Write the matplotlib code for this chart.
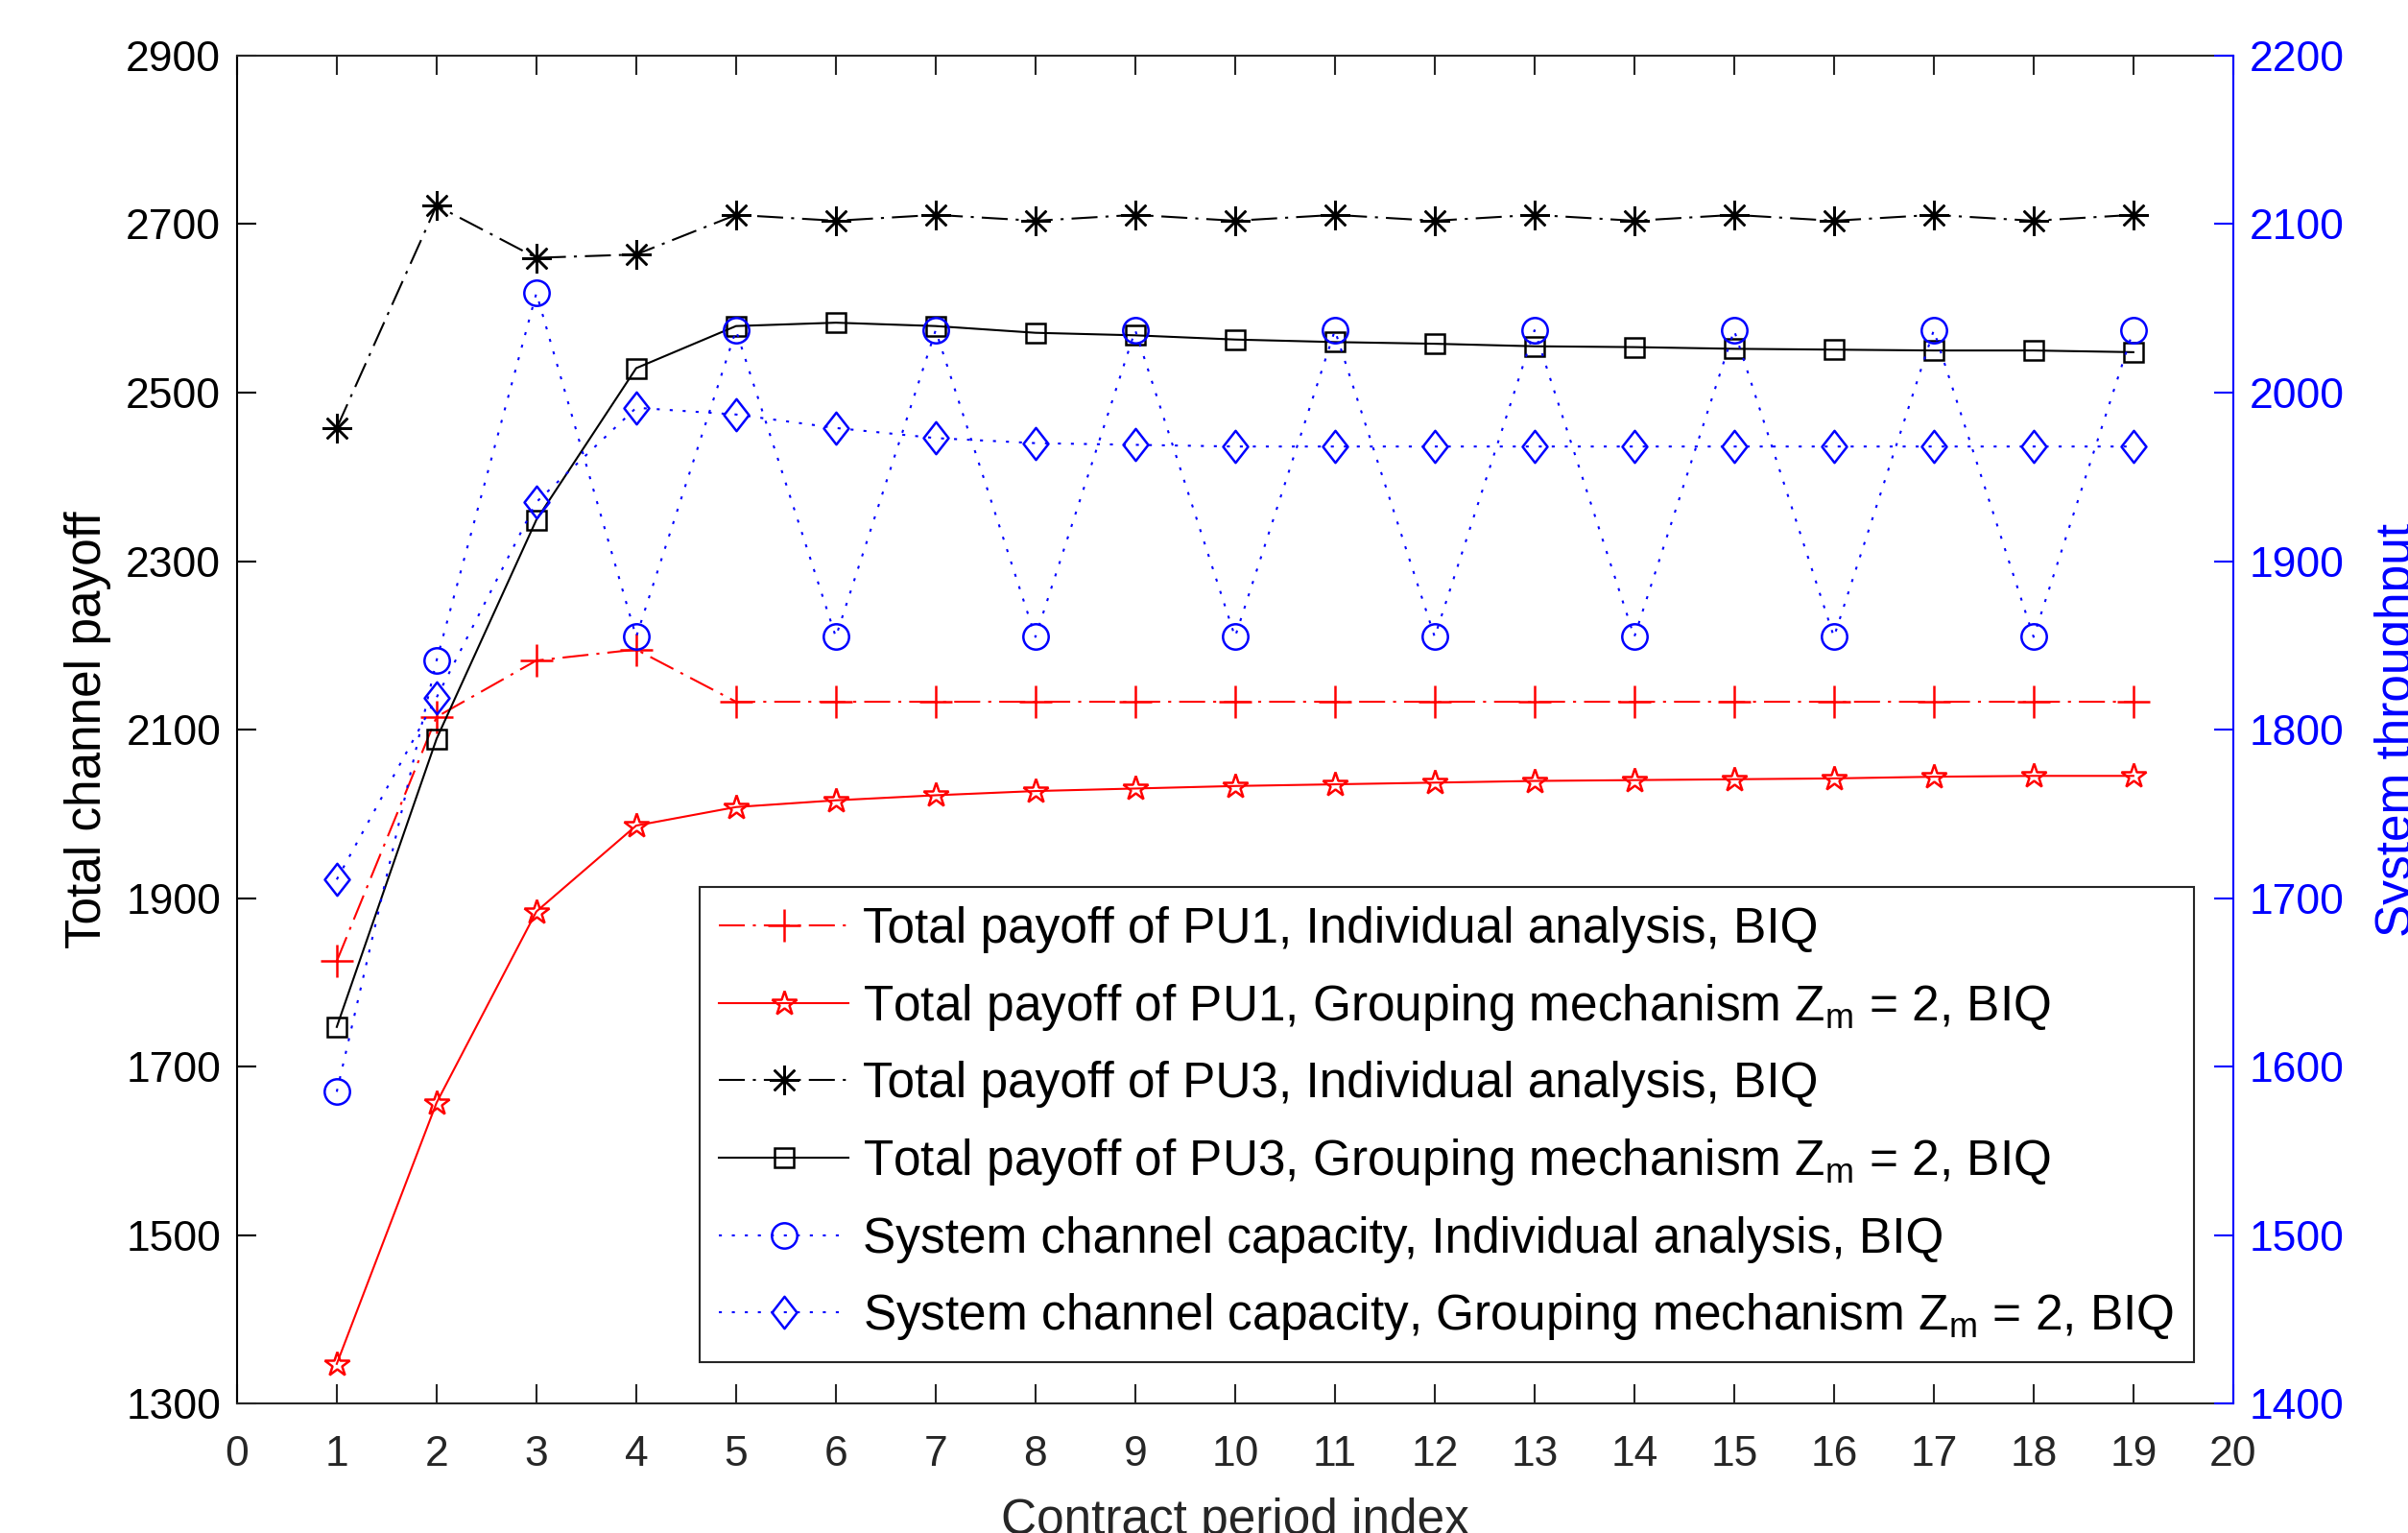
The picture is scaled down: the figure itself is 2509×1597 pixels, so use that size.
import matplotlib
matplotlib.use("Agg")
import matplotlib.pyplot as plt
from matplotlib.path import Path

plt.rcParams['font.family'] = ['Liberation Sans', 'DejaVu Sans']
plt.rcParams['mathtext.fontset'] = 'custom'
plt.rcParams['mathtext.rm'] = 'Liberation Sans'
plt.rcParams['mathtext.it'] = 'Liberation Sans:italic'

# contract periods
periods = list(range(1, 20))

# left axis: total channel payoff
pu1_individual = [1825, 2115, 2182, 2195, 2133, 2133, 2133, 2133, 2133, 2133,
                  2133, 2133, 2133, 2133, 2133, 2133, 2133, 2133, 2133]
pu1_grouping = [1347, 1657, 1884, 1986, 2008, 2016, 2022, 2027, 2030, 2033,
                2035, 2037, 2039, 2040, 2041, 2042, 2044, 2045, 2045]
pu3_individual = [2458, 2722, 2660, 2664, 2711, 2704, 2711, 2704, 2711, 2704,
                  2711, 2704, 2711, 2704, 2711, 2704, 2711, 2704, 2711]
pu3_grouping = [1747, 2089, 2349, 2529, 2579, 2583, 2579, 2571, 2568, 2563,
                2560, 2558, 2555, 2554, 2552, 2551, 2550, 2550, 2548]

# right axis: system throughput
cap_individual = [1585, 1841, 2059, 1855, 2037, 1855, 2037, 1855, 2037, 1855,
                  2037, 1855, 2037, 1855, 2037, 1855, 2037, 1855, 2037]
cap_grouping = [1711, 1819, 1935, 1991, 1987, 1979, 1973, 1970, 1969, 1968,
                1968, 1968, 1968, 1968, 1968, 1968, 1968, 1968, 1968]

x_ticks = list(range(0, 21))
left_ticks = list(range(1300, 3000, 200))
right_ticks = list(range(1400, 2300, 100))

labels = [
    'Total payoff of PU1, Individual analysis, BIQ',
    r'Total payoff of PU1, Grouping mechanism Z$_\mathregular{m}$ = 2, BIQ',
    'Total payoff of PU3, Individual analysis, BIQ',
    r'Total payoff of PU3, Grouping mechanism Z$_\mathregular{m}$ = 2, BIQ',
    'System channel capacity, Individual analysis, BIQ',
    r'System channel capacity, Grouping mechanism Z$_\mathregular{m}$ = 2, BIQ',
]

dashdot = [13, 4, 1.5, 4]
dotted = [1.5, 5]
diamond = Path([(0, -1), (0.78, 0), (0, 1), (-0.78, 0), (0, -1)], closed=True)
asterisk = (8, 2, 0)

fig = plt.figure(figsize=(25.09, 15.97), dpi=100)
ax = fig.add_axes([0.0984, 0.0845, 0.8290, 0.8792])
ax2 = ax.twinx()

lw = 1.5
mew = 1.8
h1, = ax.plot(periods, pu1_individual, color='red', lw=lw, dashes=dashdot,
              marker='+', ms=25, mew=mew)
h2, = ax.plot(periods, pu1_grouping, color='red', lw=lw, ls='-',
              marker='*', ms=19, mew=mew, mfc='none')
h3, = ax.plot(periods, pu3_individual, color='black', lw=lw, dashes=dashdot,
              marker=asterisk, ms=22, mew=mew)
h4, = ax.plot(periods, pu3_grouping, color='black', lw=lw, ls='-',
              marker='s', ms=14, mew=mew, mfc='none')
h5, = ax2.plot(periods, cap_individual, color='blue', lw=lw, dashes=dotted,
               marker='o', ms=19, mew=mew, mfc='none')
h6, = ax2.plot(periods, cap_grouping, color='blue', lw=lw, dashes=dotted,
               marker=diamond, ms=24, mew=mew, mfc='none')

ax.set_xlim(0, 20)
ax.set_xticks(x_ticks)
ax.set_ylim(1300, 2900)
ax.set_yticks(left_ticks)
ax2.set_ylim(1400, 2200)
ax2.set_yticks(right_ticks)

ax.tick_params(axis='x', direction='in', length=14.4, width=1.5, top=True,
               labelsize=32, pad=24, colors='0.15')
ax.tick_params(axis='y', direction='in', length=14.4, width=1.5, right=False,
               labelsize=32, pad=12, colors='black')
ax2.tick_params(axis='y', direction='in', length=14.4, width=1.5,
                labelsize=32, pad=12, colors='blue')

for side in ['left', 'top', 'bottom']:
    ax2.spines[side].set_visible(False)
ax.spines['right'].set_visible(False)
ax.spines['left'].set_color('black')
ax.spines['top'].set_color('0.15')
ax.spines['bottom'].set_color('0.15')
ax2.spines['right'].set_color('blue')
for sp in list(ax.spines.values()) + list(ax2.spines.values()):
    sp.set_linewidth(1.5)

ax.set_ylabel('Total channel payoff', fontsize=37, color='black')
ax.yaxis.set_label_coords(-0.063, 0.5)
ax.set_xlabel('Contract period index', fontsize=37, color='0.15')
ax.xaxis.set_label_coords(0.5, -0.0698)
ax2.set_ylabel('System throughput', fontsize=37, color='blue')
ax2.yaxis.set_label_coords(1.0707, 0.5)

leg = ax2.legend([h1, h2, h3, h4, h5, h6], labels, loc='lower right',
                 bbox_to_anchor=(0.9803, 0.0309), borderaxespad=0, fontsize=37,
                 handlelength=2.63, handletextpad=0.29, borderpad=0.4,
                 labelspacing=0.575, fancybox=False, edgecolor='0.15',
                 framealpha=1)
leg.get_frame().set_linewidth(1.5)

fig.savefig('out.png', dpi=100)
